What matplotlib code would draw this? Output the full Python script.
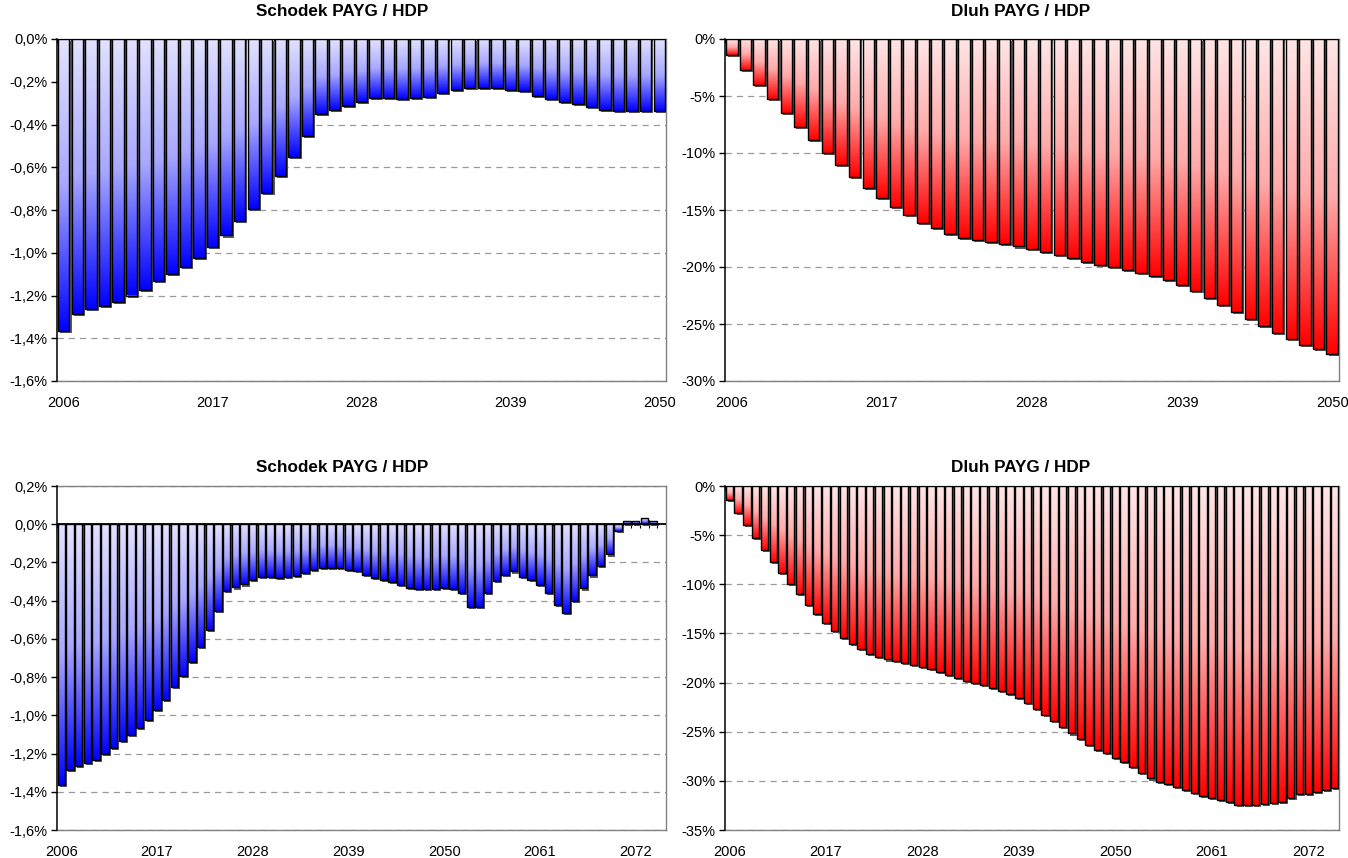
import numpy as np
import matplotlib
matplotlib.use("Agg")
import matplotlib.pyplot as plt
import matplotlib.patheffects as pe
from matplotlib.colors import LinearSegmentedColormap, to_rgb

plt.rcParams['font.family'] = ['Liberation Sans', 'DejaVu Sans']

# ---------------- data (values in % of GDP) ----------------
years_2050 = list(range(2006, 2051))
years_2075 = list(range(2006, 2076))

deficit_2006_2050 = [-1.365, -1.287, -1.265, -1.250, -1.232, -1.200, -1.172, -1.134, -1.101, -1.067,
                     -1.023, -0.973, -0.919, -0.852, -0.793, -0.719, -0.641, -0.552, -0.454, -0.349,
                     -0.331, -0.315, -0.293, -0.276, -0.276, -0.282, -0.276, -0.271, -0.254, -0.237,
                     -0.231, -0.231, -0.231, -0.237, -0.243, -0.265, -0.282, -0.293, -0.304, -0.320,
                     -0.332, -0.337, -0.337, -0.337, -0.335]
deficit_2051_2075 = [-0.341, -0.358, -0.431, -0.431, -0.358, -0.296, -0.266, -0.247, -0.275, -0.290,
                     -0.317, -0.358, -0.424, -0.463, -0.400, -0.336, -0.268, -0.219, -0.158, -0.035,
                     0.017, 0.017, 0.035, 0.017, np.nan]

debt_2006_2050 = [-1.40, -2.75, -4.00, -5.28, -6.50, -7.73, -8.87, -9.99, -11.03, -12.08,
                  -13.03, -13.92, -14.77, -15.46, -16.11, -16.61, -17.12, -17.43, -17.65, -17.77,
                  -17.99, -18.20, -18.42, -18.66, -18.95, -19.24, -19.53, -19.81, -20.03, -20.25,
                  -20.52, -20.81, -21.14, -21.58, -22.08, -22.70, -23.29, -23.93, -24.54, -25.18,
                  -25.77, -26.32, -26.82, -27.20, -27.63]
debt_2051_2075 = [-28.10, -28.57, -29.18, -29.76, -30.14, -30.34, -30.61, -30.95, -31.19, -31.50,
                  -31.77, -31.90, -32.14, -32.48, -32.48, -32.48, -32.35, -32.24, -32.14, -31.73,
                  -31.36, -31.29, -31.12, -30.88, -30.71]

deficit_long = deficit_2006_2050 + deficit_2051_2075
debt_long = debt_2006_2050 + debt_2051_2075

title_deficit = "Schodek PAYG / HDP"
title_debt = "Dluh PAYG / HDP"
year_label_step = 11

yticks_def_top = [0.0, -0.2, -0.4, -0.6, -0.8, -1.0, -1.2, -1.4, -1.6]
yticks_def_bottom = [0.2, 0.0, -0.2, -0.4, -0.6, -0.8, -1.0, -1.2, -1.4, -1.6]
yticks_debt_top = [0, -5, -10, -15, -20, -25, -30]
yticks_debt_bottom = [0, -5, -10, -15, -20, -25, -30, -35]

BLUE_LIGHT, BLUE_DARK = '#e2e2ff', '#0000ff'
RED_LIGHT, RED_DARK = '#ffe6e6', '#ff0000'

W, H = 1348, 858
fig = plt.figure(figsize=(W / 100, H / 100), dpi=100)


def make_cmap(light, dark):
    l = np.array(to_rgb(light))
    d = np.array(to_rgb(dark))
    mid = 0.74 * l + 0.26 * d
    return LinearSegmentedColormap.from_list('g', [(0.0, l), (0.5, mid), (1.0, d)])


def fmt_one_decimal(v):
    return f"{v:.1f}%".replace('.', ',')


def fmt_int(v):
    return f"{int(round(v))}%"


def panel(px_rect, years, values, ylim, yticks, fmt, light, dark):
    l, t, r, b = px_rect
    ax = fig.add_axes([l / W, 1 - b / H, (r - l) / W, (b - t) / H])
    n = len(years)
    x = np.arange(n)
    vals = np.array(values, dtype=float)
    ok = ~np.isnan(vals)
    xv, vv = x[ok], vals[ok]
    bw = 0.84
    # shadow
    ax.bar(xv, vv, width=bw, color='#555555', linewidth=0, zorder=2,
           path_effects=[pe.SimplePatchShadow(offset=(1.5, -1.5), shadow_rgbFace='#5a5a5a', alpha=1.0)])
    # outline bars
    bars = ax.bar(xv, vv, width=bw, facecolor='none', edgecolor='black', linewidth=1.0, zorder=4)
    cmap = make_cmap(light, dark)
    grad = np.linspace(0, 1, 256).reshape(-1, 1)
    for p in bars.patches:
        x0, w0 = p.get_x(), p.get_width()
        y0, h0 = p.get_y(), p.get_height()
        lo, hi = min(y0, y0 + h0), max(y0, y0 + h0)
        im = ax.imshow(grad, cmap=cmap, extent=(x0, x0 + w0, lo, hi), origin='upper',
                       aspect='auto', zorder=3, interpolation='bilinear')
        im.set_clip_path(p)
    # category tick marks on zero axis
    tl = (ylim[1] - ylim[0]) * 4 / (b - t)
    ax.vlines(np.arange(n + 1) - 0.5, -tl, 0, color='black', lw=0.8, zorder=1.8)
    ax.axhline(0, color='black', lw=1.3, zorder=5)

    ax.set_xlim(-0.5, n - 0.5)
    ax.set_ylim(ylim)
    ax.set_yticks(yticks)
    ax.set_yticklabels([fmt(v) for v in yticks])
    tick_pos = list(range(0, n, year_label_step))
    ax.set_xticks(tick_pos)
    ax.set_xticklabels([str(years[i]) for i in tick_pos])
    ax.tick_params(axis='x', length=0, pad=11, labelsize=10.5)
    ax.tick_params(axis='y', length=4, width=1, direction='out', pad=3, labelsize=10.5)
    ax.set_axisbelow(True)
    ax.yaxis.grid(True, color='#9a9a9a', linestyle=(0, (5, 4)), linewidth=0.9)
    for s in ['top', 'right', 'bottom']:
        ax.spines[s].set_color('#808080')
        ax.spines[s].set_linewidth(1.0)
    ax.spines['left'].set_color('black')
    ax.spines['left'].set_linewidth(1.1)
    ax.spines['left'].set_zorder(6)
    return ax


panel((57, 39, 666, 381), years_2050, deficit_2006_2050, (-1.6, 0.0), yticks_def_top,
      fmt_one_decimal, BLUE_LIGHT, BLUE_DARK)
panel((725, 39, 1339, 381), years_2050, debt_2006_2050, (-30, 0), yticks_debt_top,
      fmt_int, RED_LIGHT, RED_DARK)
panel((57, 486, 666, 830), years_2075, deficit_long, (-1.6, 0.2), yticks_def_bottom,
      fmt_one_decimal, BLUE_LIGHT, BLUE_DARK)
panel((725, 486, 1339, 830), years_2075, debt_long, (-35, 0), yticks_debt_bottom,
      fmt_int, RED_LIGHT, RED_DARK)

tkw = dict(ha='center', va='center', fontsize=12.3, fontweight='bold')
fig.text(342 / W, 1 - 12 / H, title_deficit, **tkw)
fig.text(1021 / W, 1 - 12 / H, title_debt, **tkw)
fig.text(342 / W, 1 - 468 / H, title_deficit, **tkw)
fig.text(1021 / W, 1 - 468 / H, title_debt, **tkw)

fig.savefig('out.png', dpi=100)
